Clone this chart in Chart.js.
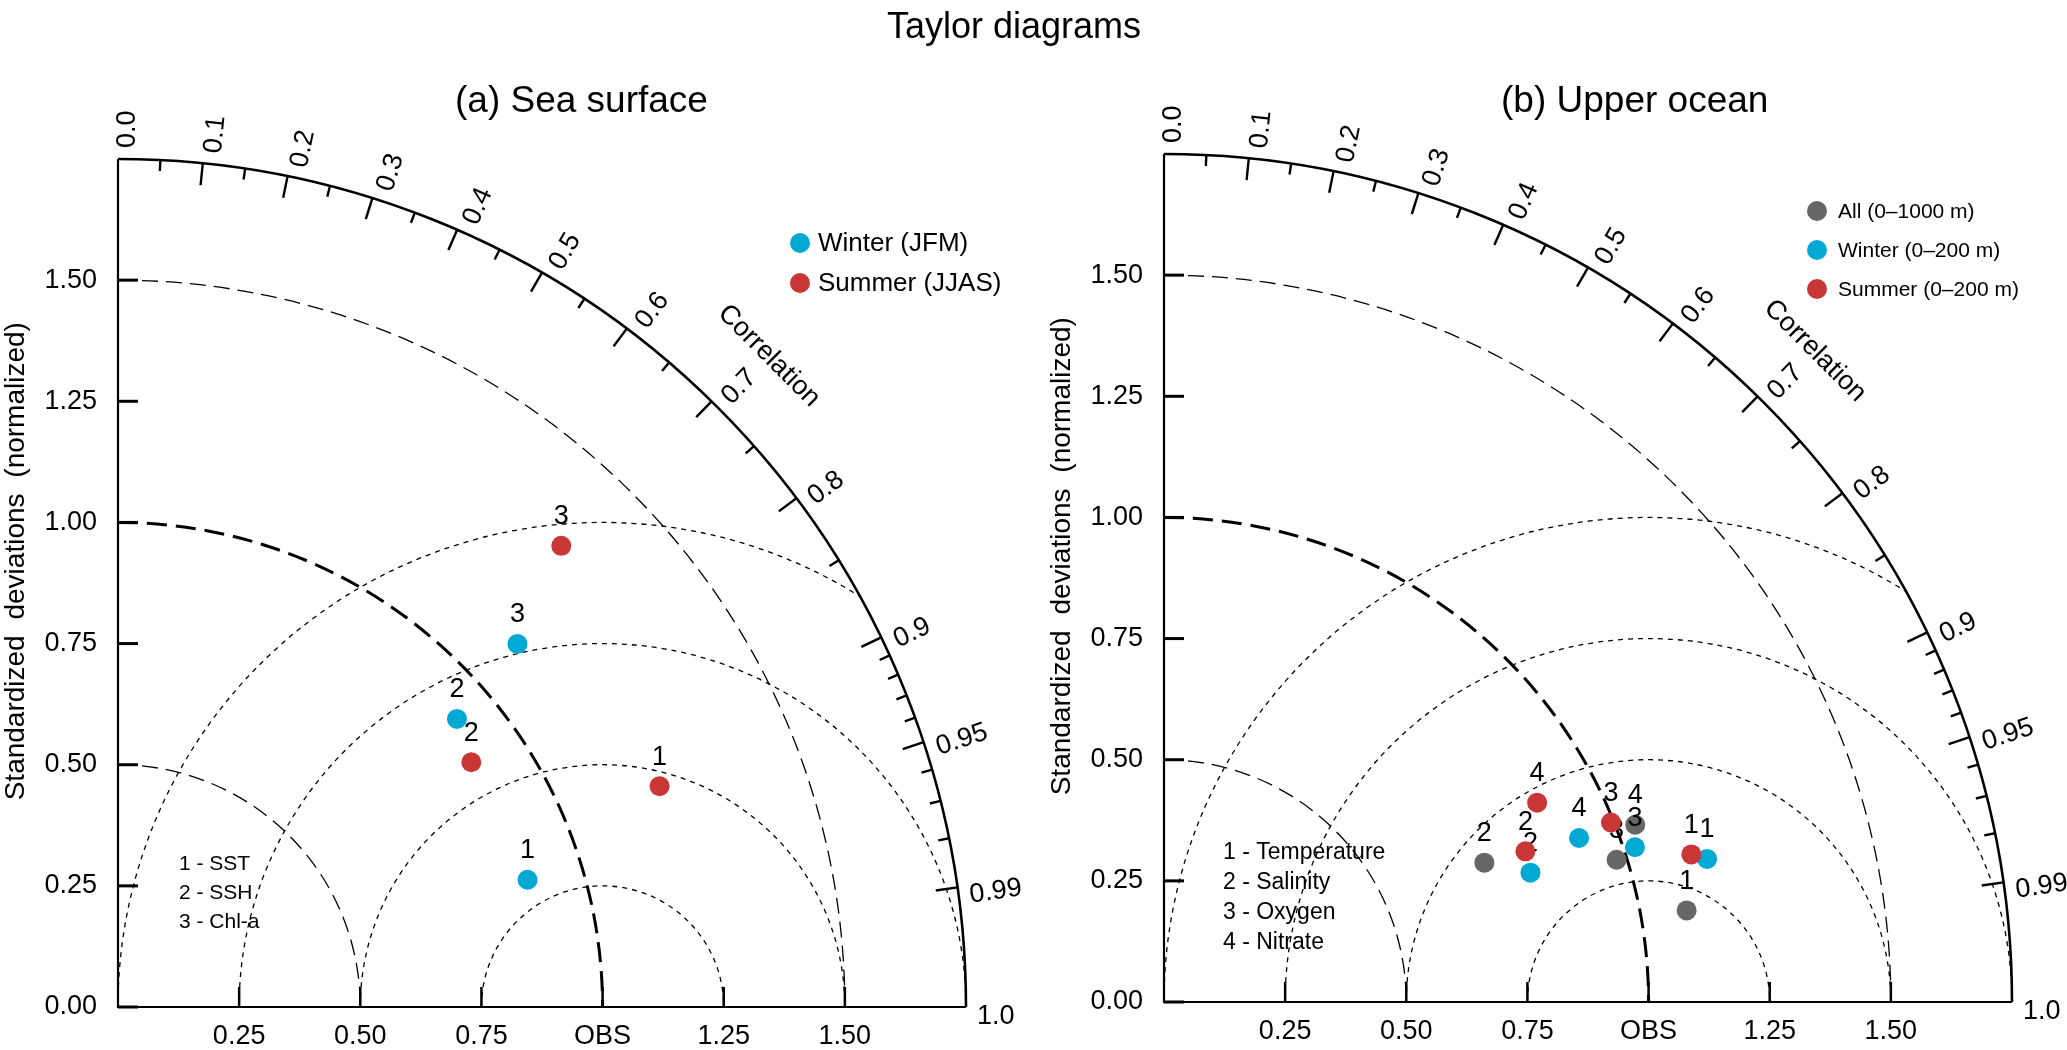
<!DOCTYPE html>
<html><head><meta charset="utf-8">
<title>Taylor diagrams</title>
<script src="https://cdn.jsdelivr.net/npm/chart.js@4.4.1/dist/chart.umd.min.js"></script>
<style>
html,body{margin:0;padding:0;background:#fff;width:2067px;height:1050px;overflow:hidden}
.wrap{position:absolute;left:0;top:0;width:2067px;height:1050px}
</style></head><body>
<div class="wrap"><canvas id="ca"></canvas></div>
<div class="wrap"><canvas id="cb"></canvas></div>
<script>
// ---------- data ----------
const sdMax = 1.75;
const sdTickValues = [0, 0.25, 0.5, 0.75, 1.0, 1.25, 1.5];
const sdYTickLabels = ['0.00','0.25','0.50','0.75','1.00','1.25','1.50'];
const sdXTickLabels = ['', '0.25','0.50','0.75','OBS','1.25','1.50'];
const sdArcs = [0.5, 1.0, 1.5];
const refSD = 1.0;
const rmsArcs = [0.25, 0.5, 0.75, 1.0];
const corrMajorTicks = [0.1,0.2,0.3,0.4,0.5,0.6,0.7,0.8,0.9,0.95,0.99];
const corrMinorTicks = [0.05,0.15,0.25,0.35,0.45,0.55,0.65,0.75,0.85,0.91,0.92,0.93,0.94,0.96,0.97,0.98];
const corrLabelValues = [0.0,0.1,0.2,0.3,0.4,0.5,0.6,0.7,0.8,0.9,0.95,0.99,1.0];
const corrLabelTexts = ['0.0','0.1','0.2','0.3','0.4','0.5','0.6','0.7','0.8','0.9','0.95','0.99','1.0'];

const mainTitle = 'Taylor diagrams';
const yAxisTitle = 'Standardized deviations (normalized)';
const corrTitle = 'Correlation';

// (a) Sea surface
const seaTitle = '(a) Sea surface';
const seaVariables = ['1 - SST','2 - SSH','3 - Chl-a'];
const seaSeriesNames = ['Winter (JFM)','Summer (JJAS)'];
const seaWinterSD   = [0.885, 0.918, 1.114];
const seaWinterCorr = [0.955, 0.762, 0.740];
const seaSummerSD   = [1.207, 0.887, 1.320];
const seaSummerCorr = [0.926, 0.822, 0.693];

// (b) Upper ocean
const upperTitle = '(b) Upper ocean';
const upperVariables = ['1 - Temperature','2 - Salinity','3 - Oxygen','4 - Nitrate'];
const upperSeriesNames = ['All (0\u20131000 m)','Winter (0\u2013200 m)','Summer (0\u2013200 m)'];
const upperAllSD      = [1.095, 0.721, 0.979, 1.039];
const upperAllCorr    = [0.985, 0.917, 0.954, 0.936];
const upperWinterSD   = [1.159, 0.802, 1.023, 0.921];
const upperWinterCorr = [0.967, 0.943, 0.950, 0.930];
const upperSummerSD   = [1.130, 0.808, 0.994, 0.873];
const upperSummerCorr = [0.963, 0.923, 0.928, 0.882];

// ---------- styling ----------
const COL_WINTER = '#00A9D4';
const COL_SUMMER = '#C83636';
const COL_ALL = '#666666';
const FONT = '"Liberation Sans", Arial, Helvetica, sans-serif';
function font(px){ return px + 'px ' + FONT; }

function polarToXY(sd, corr){
  return sd.map((s,i)=>({x: s*corr[i], y: s*Math.sqrt(Math.max(0,1-corr[i]*corr[i]))}));
}

const PANELS = {};

function geom(chart){
  const xs = chart.scales.x, ys = chart.scales.y;
  const ox = xs.getPixelForValue(0), oy = ys.getPixelForValue(0);
  const k = xs.getPixelForValue(1) - ox;
  return {xs, ys, ox, oy, k};
}

const taylorPlugin = {
  id: 'taylor',
  beforeDatasetsDraw(chart){
    const ctx = chart.ctx;
    const {xs, ox, oy, k} = geom(chart);
    const R = k*sdMax;
    ctx.save();
    ctx.strokeStyle = '#000'; ctx.fillStyle = '#000';
    // RMS (centred on OBS) dotted arcs, clipped to the quarter disc
    ctx.save();
    ctx.beginPath(); ctx.moveTo(ox,oy); ctx.arc(ox,oy,R,-Math.PI/2,0); ctx.closePath(); ctx.clip();
    ctx.setLineDash([5,5]); ctx.lineWidth = 1.3;
    const cx = xs.getPixelForValue(refSD);
    rmsArcs.forEach(r=>{ ctx.beginPath(); ctx.arc(cx,oy,k*r,Math.PI,2*Math.PI); ctx.stroke(); });
    ctx.restore();
    // SD arcs
    sdArcs.forEach(s=>{
      const isRef = s === refSD;
      ctx.setLineDash(isRef ? [20,9] : [16,8]);
      ctx.lineWidth = isRef ? 3 : 1.3;
      ctx.beginPath(); ctx.arc(ox,oy,k*s,-Math.PI/2,0); ctx.stroke();
    });
    ctx.setLineDash([]);
    // outer arc
    ctx.lineWidth = 2.6;
    ctx.beginPath(); ctx.arc(ox,oy,R,-Math.PI/2,0); ctx.stroke();
    // axes
    ctx.lineWidth = 2.2;
    ctx.beginPath(); ctx.moveTo(ox, oy-R); ctx.lineTo(ox,oy); ctx.lineTo(ox+R, oy); ctx.stroke();
    // y ticks + labels
    ctx.font = font(27); ctx.textAlign='right'; ctx.textBaseline='middle';
    sdTickValues.forEach((v,i)=>{
      const y = oy - k*v;
      ctx.lineWidth = 3;
      ctx.beginPath(); ctx.moveTo(ox,y); ctx.lineTo(ox+20,y); ctx.stroke();
      ctx.fillText(sdYTickLabels[i], ox-21, y);
    });
    // x ticks + labels
    ctx.textAlign='center';
    sdTickValues.forEach((v,i)=>{
      if (!sdXTickLabels[i]) return;
      const x = ox + k*v;
      ctx.lineWidth = 2.5;
      ctx.beginPath(); ctx.moveTo(x,oy); ctx.lineTo(x,oy-20); ctx.stroke();
      ctx.fillText(sdXTickLabels[i], x, oy+30);
    });
    // correlation ticks
    const tick = (r, len)=>{
      const th = Math.acos(r), c = Math.cos(th), s = Math.sin(th);
      ctx.beginPath(); ctx.moveTo(ox+R*c, oy-R*s); ctx.lineTo(ox+(R-len)*c, oy-(R-len)*s); ctx.stroke();
    };
    ctx.lineWidth = 2.4;
    corrMajorTicks.forEach(r=>tick(r,22));
    corrMinorTicks.forEach(r=>tick(r,11));
    // correlation labels
    ctx.font = font(27); ctx.textAlign='left'; ctx.textBaseline='alphabetic';
    corrLabelValues.forEach((r,i)=>{
      const th = Math.acos(r);
      ctx.save(); ctx.translate(ox,oy); ctx.rotate(-th);
      ctx.fillText(corrLabelTexts[i], R+11, 17);
      ctx.restore();
    });
    // "Correlation"
    ctx.save();
    const ang = Math.PI/4, rr = k*1.9;
    ctx.translate(ox + rr*Math.cos(ang), oy - rr*Math.sin(ang));
    ctx.rotate(ang);
    ctx.textAlign='center'; ctx.textBaseline='middle';
    ctx.fillText(corrTitle, 0, 0);
    ctx.restore();
    // y-axis title
    ctx.save();
    ctx.translate(ox-94, oy-k*0.92);
    ctx.rotate(-Math.PI/2);
    ctx.font = font(28); ctx.textAlign='center'; ctx.textBaseline='alphabetic';
    try { ctx.wordSpacing = '8px'; } catch(e) {}
    ctx.fillText(yAxisTitle, 0, 0);
    ctx.restore();
    ctx.restore();
  },
  afterDatasetDraw(chart, args){
    const ctx = chart.ctx;
    ctx.save();
    ctx.fillStyle = '#000'; ctx.font = font(27);
    ctx.textAlign='center'; ctx.textBaseline='middle';
    args.meta.data.forEach((pt,i)=>{ ctx.fillText(String(i+1), pt.x, pt.y-29); });
    ctx.restore();
  },
  afterDraw(chart){
    const P = PANELS[chart.canvas.id];
    const ctx = chart.ctx;
    const {ox, oy} = geom(chart);
    ctx.save();
    ctx.fillStyle = '#000';
    if (P.mainTitle){
      ctx.font = font(36); ctx.textAlign='center'; ctx.textBaseline='alphabetic';
      ctx.fillText(P.mainTitle, 1014, 38);
    }
    // panel title
    ctx.font = font(37); ctx.textAlign='left'; ctx.textBaseline='alphabetic';
    ctx.fillText(P.title, ox+337, 112);
    // legend
    ctx.font = font(P.legendFont); ctx.textBaseline='middle';
    chart.data.datasets.forEach((ds,i)=>{
      const mx = ox + P.legendDX, my = P.legendY + i*P.legendStep;
      ctx.fillStyle = ds.backgroundColor;
      ctx.beginPath(); ctx.arc(mx, my, 10, 0, 2*Math.PI); ctx.fill();
      ctx.fillStyle = '#000';
      ctx.fillText(ds.label, mx+P.legendGap, my+1);
    });
    // variable key
    ctx.font = font(P.keyFont);
    P.variables.forEach((t,i)=>{ ctx.fillText(t, ox+P.keyDX, oy - P.keyDY + i*P.keyStep); });
    ctx.restore();
  }
};

function makeChart(id, panel){
  PANELS[id] = panel;
  return new Chart(document.getElementById(id), {
    type: 'scatter',
    data: { datasets: panel.series.map(s=>({
      label: s.label, data: polarToXY(s.sd, s.corr),
      backgroundColor: s.color, borderWidth: 0,
      pointRadius: 10, pointHoverRadius: 10, order: s.order, clip: false
    })) },
    options: {
      responsive: true, maintainAspectRatio: false, animation: false,
      devicePixelRatio: 1, events: [],
      layout: { padding: panel.padding },
      scales: {
        x: { type: 'linear', min: 0, max: sdMax, display: false },
        y: { type: 'linear', min: 0, max: sdMax, display: false }
      },
      plugins: { legend: {display:false}, tooltip: {enabled:false}, title: {display:false} }
    },
    plugins: [taylorPlugin]
  });
}

makeChart('ca', {
  mainTitle: mainTitle,
  title: seaTitle,
  variables: seaVariables,
  padding: {left:118, top:159, right:1101, bottom:43},
  series: [
    {label: seaSeriesNames[0], sd: seaWinterSD, corr: seaWinterCorr, color: COL_WINTER, order: 2},
    {label: seaSeriesNames[1], sd: seaSummerSD, corr: seaSummerCorr, color: COL_SUMMER, order: 1}
  ],
  legendDX: 682, legendY: 243, legendStep: 40, legendGap: 18, legendFont: 26,
  keyDX: 61, keyDY: 143, keyStep: 29, keyFont: 21
});

makeChart('cb', {
  mainTitle: null,
  title: upperTitle,
  variables: upperVariables,
  padding: {left:1164, top:154, right:55, bottom:48},
  series: [
    {label: upperSeriesNames[0], sd: upperAllSD, corr: upperAllCorr, color: COL_ALL, order: 3},
    {label: upperSeriesNames[1], sd: upperWinterSD, corr: upperWinterCorr, color: COL_WINTER, order: 2},
    {label: upperSeriesNames[2], sd: upperSummerSD, corr: upperSummerCorr, color: COL_SUMMER, order: 1}
  ],
  legendDX: 653, legendY: 211, legendStep: 39, legendGap: 21, legendFont: 21,
  keyDX: 59, keyDY: 149, keyStep: 30, keyFont: 23
});
</script>
</body></html>
